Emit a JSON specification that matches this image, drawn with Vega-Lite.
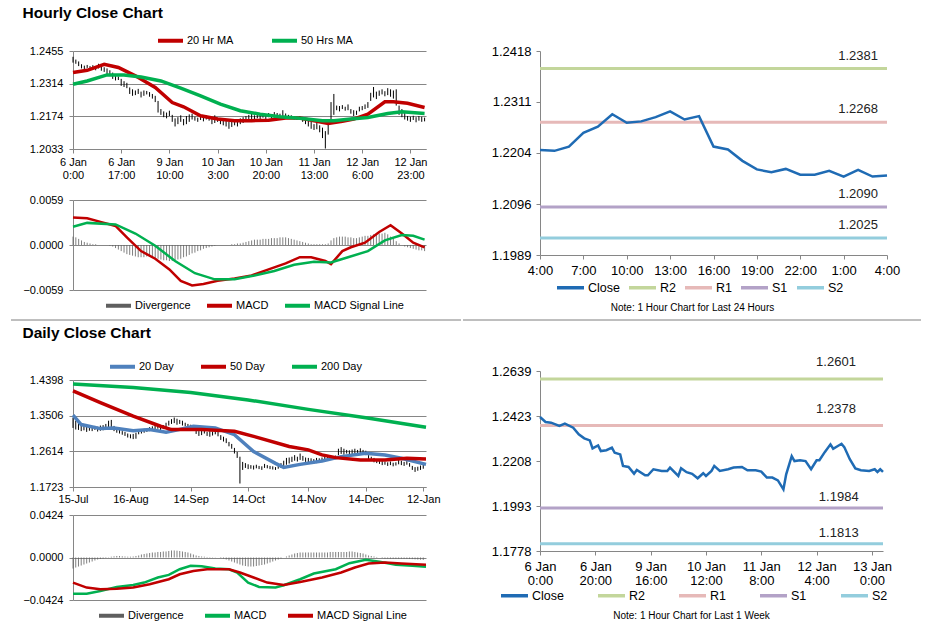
{
"$schema": "https://vega.github.io/schema/vega-lite/v6.json",
"background": "white",
"padding": {"left": 10, "top": 5, "right": 5, "bottom": 5},
"spacing": 0,
"resolve": {"scale": {"x": "independent", "y": "independent", "color": "independent"}},
"title": {"text": "Hourly Close Chart", "anchor": "start", "fontSize": 15.5, "fontWeight": "bold", "font": "Liberation Sans", "color": "#000", "offset": 0, "dx": 12},
"datasets": {
"hb": [
{"i":0,"l":1.2405,"h":1.2430,"d":0.0011},{"i":1,"l":1.2400,"h":1.2418,"d":0.0010},{"i":2,"l":1.2390,"h":1.2410,"d":0.0008},{"i":3,"l":1.2380,"h":1.2398,"d":0.0006},{"i":4,"l":1.2376,"h":1.2392,"d":0.0004},{"i":5,"l":1.2382,"h":1.2395,"d":0.0003},{"i":6,"l":1.2374,"h":1.2390,"d":0.0002},{"i":7,"l":1.2378,"h":1.2394,"d":0.0001},{"i":8,"l":1.2372,"h":1.2388,"d":0.0001},{"i":9,"l":1.2380,"h":1.2400,"d":0},
{"i":10,"l":1.2370,"h":1.2392,"d":0},{"i":11,"l":1.2365,"h":1.2385,"d":0},{"i":12,"l":1.2355,"h":1.2380,"d":0},{"i":13,"l":1.2350,"h":1.2372,"d":-0.0001},{"i":14,"l":1.2335,"h":1.2362,"d":-0.0002},{"i":15,"l":1.2328,"h":1.2352,"d":-0.0004},{"i":16,"l":1.2330,"h":1.2345,"d":-0.0006},{"i":17,"l":1.2305,"h":1.2335,"d":-0.0008},{"i":18,"l":1.2300,"h":1.2325,"d":-0.0010},{"i":19,"l":1.2295,"h":1.2318,"d":-0.0012},
{"i":20,"l":1.2270,"h":1.2298,"d":-0.0013},{"i":21,"l":1.2262,"h":1.2290,"d":-0.0014},{"i":22,"l":1.2265,"h":1.2285,"d":-0.0015},{"i":23,"l":1.2270,"h":1.2292,"d":-0.0016},{"i":24,"l":1.2255,"h":1.2280,"d":-0.0016},{"i":25,"l":1.2262,"h":1.2285,"d":-0.0016},{"i":26,"l":1.2268,"h":1.2283,"d":-0.0015},{"i":27,"l":1.2258,"h":1.2278,"d":-0.0015},{"i":28,"l":1.2250,"h":1.2270,"d":-0.0016},{"i":29,"l":1.2235,"h":1.2262,"d":-0.0017},
{"i":30,"l":1.2190,"h":1.2240,"d":-0.0018},{"i":31,"l":1.2180,"h":1.2205,"d":-0.0019},{"i":32,"l":1.2170,"h":1.2195,"d":-0.0020},{"i":33,"l":1.2165,"h":1.2190,"d":-0.0020},{"i":34,"l":1.2175,"h":1.2198,"d":-0.0021},{"i":35,"l":1.2150,"h":1.2180,"d":-0.0021},{"i":36,"l":1.2130,"h":1.2165,"d":-0.0020},{"i":37,"l":1.2140,"h":1.2170,"d":-0.0019},{"i":38,"l":1.2150,"h":1.2178,"d":-0.0018},{"i":39,"l":1.2135,"h":1.2162,"d":-0.0016},
{"i":40,"l":1.2140,"h":1.2175,"d":-0.0015},{"i":41,"l":1.2150,"h":1.2182,"d":-0.0013},{"i":42,"l":1.2160,"h":1.2185,"d":-0.0011},{"i":43,"l":1.2155,"h":1.2172,"d":-0.0010},{"i":44,"l":1.2150,"h":1.2168,"d":-0.0008},{"i":45,"l":1.2158,"h":1.2175,"d":-0.0007},{"i":46,"l":1.2152,"h":1.2170,"d":-0.0005},{"i":47,"l":1.2160,"h":1.2178,"d":-0.0004},{"i":48,"l":1.2155,"h":1.2172,"d":-0.0003},{"i":49,"l":1.2140,"h":1.2170,"d":-0.0002},
{"i":50,"l":1.2145,"h":1.2178,"d":-0.0001},{"i":51,"l":1.2150,"h":1.2168,"d":0},{"i":52,"l":1.2140,"h":1.2160,"d":0},{"i":53,"l":1.2135,"h":1.2162,"d":0},{"i":54,"l":1.2130,"h":1.2155,"d":0},{"i":55,"l":1.2120,"h":1.2150,"d":0},{"i":56,"l":1.2128,"h":1.2152,"d":0.0001},{"i":57,"l":1.2135,"h":1.2160,"d":0.0001},{"i":58,"l":1.2130,"h":1.2150,"d":0.0002},{"i":59,"l":1.2140,"h":1.2165,"d":0.0002},
{"i":60,"l":1.2145,"h":1.2170,"d":0.0003},{"i":61,"l":1.2155,"h":1.2175,"d":0.0004},{"i":62,"l":1.2158,"h":1.2180,"d":0.0005},{"i":63,"l":1.2160,"h":1.2185,"d":0.0006},{"i":64,"l":1.2162,"h":1.2178,"d":0.0007},{"i":65,"l":1.2165,"h":1.2190,"d":0.0007},{"i":66,"l":1.2160,"h":1.2180,"d":0.0007},{"i":67,"l":1.2168,"h":1.2185,"d":0.0008},{"i":68,"l":1.2162,"h":1.2182,"d":0.0008},{"i":69,"l":1.2170,"h":1.2188,"d":0.0008},
{"i":70,"l":1.2165,"h":1.2183,"d":0.0009},{"i":71,"l":1.2168,"h":1.2192,"d":0.0009},{"i":72,"l":1.2172,"h":1.2188,"d":0.0009},{"i":73,"l":1.2165,"h":1.2185,"d":0.0010},{"i":74,"l":1.2170,"h":1.2200,"d":0.0010},{"i":75,"l":1.2168,"h":1.2186,"d":0.0010},{"i":76,"l":1.2162,"h":1.2180,"d":0.0009},{"i":77,"l":1.2165,"h":1.2178,"d":0.0008},{"i":78,"l":1.2160,"h":1.2175,"d":0.0007},{"i":79,"l":1.2158,"h":1.2172,"d":0.0006},
{"i":80,"l":1.2162,"h":1.2175,"d":0.0005},{"i":81,"l":1.2150,"h":1.2170,"d":0.0004},{"i":82,"l":1.2140,"h":1.2165,"d":0.0003},{"i":83,"l":1.2130,"h":1.2160,"d":0.0002},{"i":84,"l":1.2120,"h":1.2150,"d":0.0001},{"i":85,"l":1.2115,"h":1.2140,"d":0.0001},{"i":86,"l":1.2118,"h":1.2145,"d":0.0001},{"i":87,"l":1.2105,"h":1.2135,"d":0.0001},{"i":88,"l":1.2080,"h":1.2125,"d":0.0001},{"i":89,"l":1.2035,"h":1.2110,"d":0.0001},
{"i":90,"l":1.2095,"h":1.2150,"d":0.0002},{"i":91,"l":1.2150,"h":1.2235,"d":0.0006},{"i":92,"l":1.2180,"h":1.2270,"d":0.0009},{"i":93,"l":1.2200,"h":1.2220,"d":0.0010},{"i":94,"l":1.2195,"h":1.2218,"d":0.0011},{"i":95,"l":1.2205,"h":1.2222,"d":0.0011},{"i":96,"l":1.2198,"h":1.2215,"d":0.0011},{"i":97,"l":1.2200,"h":1.2225,"d":0.0010},{"i":98,"l":1.2185,"h":1.2205,"d":0.0010},{"i":99,"l":1.2175,"h":1.2200,"d":0.0009},
{"i":100,"l":1.2180,"h":1.2198,"d":0.0009},{"i":101,"l":1.2195,"h":1.2215,"d":0.0010},{"i":102,"l":1.2200,"h":1.2218,"d":0.0011},{"i":103,"l":1.2205,"h":1.2225,"d":0.0012},{"i":104,"l":1.2210,"h":1.2235,"d":0.0012},{"i":105,"l":1.2240,"h":1.2275,"d":0.0013},{"i":106,"l":1.2255,"h":1.2300,"d":0.0014},{"i":107,"l":1.2248,"h":1.2280,"d":0.0014},{"i":108,"l":1.2262,"h":1.2285,"d":0.0015},{"i":109,"l":1.2268,"h":1.2290,"d":0.0015},
{"i":110,"l":1.2260,"h":1.2282,"d":0.0016},{"i":111,"l":1.2265,"h":1.2295,"d":0.0014},{"i":112,"l":1.2258,"h":1.2290,"d":0.0011},{"i":113,"l":1.2250,"h":1.2285,"d":0.0008},{"i":114,"l":1.2220,"h":1.2290,"d":0.0005},{"i":115,"l":1.2180,"h":1.2220,"d":0.0002},{"i":116,"l":1.2170,"h":1.2205,"d":0},{"i":117,"l":1.2160,"h":1.2190,"d":-0.0002},{"i":118,"l":1.2155,"h":1.2175,"d":-0.0003},{"i":119,"l":1.2150,"h":1.2172,"d":-0.0004},
{"i":120,"l":1.2158,"h":1.2176,"d":-0.0005},{"i":121,"l":1.2148,"h":1.2170,"d":-0.0006},{"i":122,"l":1.2155,"h":1.2175,"d":-0.0007},{"i":123,"l":1.2150,"h":1.2172,"d":-0.0007},{"i":124,"l":1.2152,"h":1.2168,"d":-0.0008}
],
"hma": [
{"i":0,"s":"20 Hr MA","v":1.2362},{"i":5,"s":"20 Hr MA","v":1.2372},{"i":11,"s":"20 Hr MA","v":1.2398},{"i":16,"s":"20 Hr MA","v":1.2384},{"i":22,"s":"20 Hr MA","v":1.2348},{"i":29,"s":"20 Hr MA","v":1.2298},{"i":35,"s":"20 Hr MA","v":1.2233},{"i":39,"s":"20 Hr MA","v":1.2215},{"i":45,"s":"20 Hr MA","v":1.2176},{"i":51,"s":"20 Hr MA","v":1.2162},{"i":57,"s":"20 Hr MA","v":1.2155},{"i":63,"s":"20 Hr MA","v":1.2155},{"i":69,"s":"20 Hr MA","v":1.2157},{"i":75,"s":"20 Hr MA","v":1.2166},{"i":80,"s":"20 Hr MA","v":1.2166},{"i":86,"s":"20 Hr MA","v":1.2152},{"i":90,"s":"20 Hr MA","v":1.2143},{"i":95,"s":"20 Hr MA","v":1.2152},{"i":99,"s":"20 Hr MA","v":1.2162},{"i":104,"s":"20 Hr MA","v":1.2183},{"i":110,"s":"20 Hr MA","v":1.2236},{"i":113,"s":"20 Hr MA","v":1.2236},{"i":118,"s":"20 Hr MA","v":1.2230},{"i":124,"s":"20 Hr MA","v":1.2212},
{"i":0,"s":"50 Hrs MA","v":1.2312},{"i":5,"s":"50 Hrs MA","v":1.2326},{"i":12,"s":"50 Hrs MA","v":1.2352},{"i":18,"s":"50 Hrs MA","v":1.2352},{"i":24,"s":"50 Hrs MA","v":1.2343},{"i":31,"s":"50 Hrs MA","v":1.2326},{"i":38,"s":"50 Hrs MA","v":1.2295},{"i":45,"s":"50 Hrs MA","v":1.2262},{"i":52,"s":"50 Hrs MA","v":1.2226},{"i":59,"s":"50 Hrs MA","v":1.2198},{"i":66,"s":"50 Hrs MA","v":1.2183},{"i":73,"s":"50 Hrs MA","v":1.2172},{"i":80,"s":"50 Hrs MA","v":1.2165},{"i":88,"s":"50 Hrs MA","v":1.2155},{"i":92,"s":"50 Hrs MA","v":1.2155},{"i":98,"s":"50 Hrs MA","v":1.2162},{"i":104,"s":"50 Hrs MA","v":1.2169},{"i":111,"s":"50 Hrs MA","v":1.2186},{"i":116,"s":"50 Hrs MA","v":1.2193},{"i":124,"s":"50 Hrs MA","v":1.2186}
],
"hmacd": [
{"i":0,"s":"MACD","v":0.0036},{"i":5,"s":"MACD","v":0.0035},{"i":10,"s":"MACD","v":0.0030},{"i":15,"s":"MACD","v":0.0025},{"i":19,"s":"MACD","v":0.0010},{"i":24,"s":"MACD","v":-0.0008},{"i":29,"s":"MACD","v":-0.0018},{"i":34,"s":"MACD","v":-0.0032},{"i":38,"s":"MACD","v":-0.0047},{"i":42,"s":"MACD","v":-0.0053},{"i":46,"s":"MACD","v":-0.0051},{"i":51,"s":"MACD","v":-0.0047},{"i":57,"s":"MACD","v":-0.0044},{"i":63,"s":"MACD","v":-0.0040},{"i":69,"s":"MACD","v":-0.0032},{"i":75,"s":"MACD","v":-0.0024},{"i":80,"s":"MACD","v":-0.0016},{"i":84,"s":"MACD","v":-0.0016},{"i":89,"s":"MACD","v":-0.0021},{"i":91,"s":"MACD","v":-0.0025},{"i":95,"s":"MACD","v":-0.0008},{"i":98,"s":"MACD","v":-0.0003},{"i":103,"s":"MACD","v":0.0003},{"i":108,"s":"MACD","v":0.0017},{"i":112,"s":"MACD","v":0.0026},{"i":116,"s":"MACD","v":0.0015},{"i":120,"s":"MACD","v":0.0003},{"i":124,"s":"MACD","v":-0.0003},
{"i":0,"s":"MACD Signal Line","v":0.0024},{"i":5,"s":"MACD Signal Line","v":0.0029},{"i":15,"s":"MACD Signal Line","v":0.0027},{"i":22,"s":"MACD Signal Line","v":0.0015},{"i":29,"s":"MACD Signal Line","v":-0.0001},{"i":36,"s":"MACD Signal Line","v":-0.0021},{"i":43,"s":"MACD Signal Line","v":-0.0037},{"i":50,"s":"MACD Signal Line","v":-0.0045},{"i":57,"s":"MACD Signal Line","v":-0.0045},{"i":64,"s":"MACD Signal Line","v":-0.0040},{"i":71,"s":"MACD Signal Line","v":-0.0034},{"i":78,"s":"MACD Signal Line","v":-0.0026},{"i":85,"s":"MACD Signal Line","v":-0.0022},{"i":91,"s":"MACD Signal Line","v":-0.0023},{"i":97,"s":"MACD Signal Line","v":-0.0016},{"i":104,"s":"MACD Signal Line","v":-0.0008},{"i":110,"s":"MACD Signal Line","v":0.0006},{"i":116,"s":"MACD Signal Line","v":0.0013},{"i":120,"s":"MACD Signal Line","v":0.0012},{"i":124,"s":"MACD Signal Line","v":0.0007}
],
"hr": [
{"i":0,"v":1.2210},{"i":1,"v":1.2208},{"i":2,"v":1.2217},{"i":3,"v":1.2246},{"i":4,"v":1.2259},{"i":5,"v":1.2285},{"i":6,"v":1.2267},{"i":7,"v":1.2270},{"i":8,"v":1.2279},{"i":9,"v":1.2291},{"i":10,"v":1.2274},{"i":11,"v":1.2281},{"i":12,"v":1.2217},{"i":13,"v":1.2211},{"i":14,"v":1.2187},{"i":15,"v":1.2169},{"i":16,"v":1.2163},{"i":17,"v":1.2170},{"i":18,"v":1.2158},{"i":19,"v":1.2158},{"i":20,"v":1.2166},{"i":21,"v":1.2154},{"i":22,"v":1.2168},{"i":23,"v":1.2154},{"i":24,"v":1.2156}
],
"hlev": [{"s":"R2","v":1.2381},{"s":"R1","v":1.2268},{"s":"S1","v":1.2090},{"s":"S2","v":1.2025}],
"db": [
{"i":0,"l":1.3200,"h":1.3460,"d":-0.0110},{"i":1,"l":1.3160,"h":1.3380,"d":-0.0100},{"i":2,"l":1.3150,"h":1.3330,"d":-0.0090},{"i":3,"l":1.3120,"h":1.3290,"d":-0.0080},{"i":4,"l":1.3140,"h":1.3270,"d":-0.0070},{"i":5,"l":1.3100,"h":1.3250,"d":-0.0060},{"i":6,"l":1.3130,"h":1.3260,"d":-0.0050},{"i":7,"l":1.3120,"h":1.3240,"d":-0.0040},{"i":8,"l":1.3150,"h":1.3250,"d":-0.0030},{"i":9,"l":1.3110,"h":1.3230,"d":-0.0020},
{"i":10,"l":1.3130,"h":1.3260,"d":-0.0015},{"i":11,"l":1.3140,"h":1.3270,"d":-0.0010},{"i":12,"l":1.3160,"h":1.3300,"d":-0.0005},{"i":13,"l":1.3180,"h":1.3380,"d":0.0003},{"i":14,"l":1.3200,"h":1.3400,"d":0.0008},{"i":15,"l":1.3120,"h":1.3250,"d":0.0012},{"i":16,"l":1.3080,"h":1.3200,"d":0.0015},{"i":17,"l":1.3060,"h":1.3180,"d":0.0015},{"i":18,"l":1.3030,"h":1.3120,"d":0.0012},{"i":19,"l":1.3000,"h":1.3100,"d":0.0010},
{"i":20,"l":1.2960,"h":1.3060,"d":0.0008},{"i":21,"l":1.2940,"h":1.3040,"d":0.0008},{"i":22,"l":1.2920,"h":1.3050,"d":0.0010},{"i":23,"l":1.2930,"h":1.3080,"d":0.0015},{"i":24,"l":1.3040,"h":1.3140,"d":0.0020},{"i":25,"l":1.3060,"h":1.3160,"d":0.0030},{"i":26,"l":1.3080,"h":1.3180,"d":0.0035},{"i":27,"l":1.3100,"h":1.3190,"d":0.0040},{"i":28,"l":1.3120,"h":1.3220,"d":0.0045},{"i":29,"l":1.3150,"h":1.3240,"d":0.0050},
{"i":30,"l":1.3160,"h":1.3280,"d":0.0050},{"i":31,"l":1.3180,"h":1.3260,"d":0.0055},{"i":32,"l":1.3150,"h":1.3230,"d":0.0055},{"i":33,"l":1.3170,"h":1.3270,"d":0.0060},{"i":34,"l":1.3200,"h":1.3330,"d":0.0060},{"i":35,"l":1.3260,"h":1.3380,"d":0.0065},{"i":36,"l":1.3300,"h":1.3420,"d":0.0070},{"i":37,"l":1.3320,"h":1.3460,"d":0.0070},{"i":38,"l":1.3280,"h":1.3430,"d":0.0068},{"i":39,"l":1.3300,"h":1.3400,"d":0.0065},
{"i":40,"l":1.3260,"h":1.3380,"d":0.0060},{"i":41,"l":1.3240,"h":1.3330,"d":0.0055},{"i":42,"l":1.3220,"h":1.3300,"d":0.0050},{"i":43,"l":1.3200,"h":1.3280,"d":0.0040},{"i":44,"l":1.3150,"h":1.3260,"d":0.0030},{"i":45,"l":1.3050,"h":1.3180,"d":0.0020},{"i":46,"l":1.3000,"h":1.3120,"d":0.0015},{"i":47,"l":1.3020,"h":1.3150,"d":0.0010},{"i":48,"l":1.3060,"h":1.3160,"d":0.0008},{"i":49,"l":1.3000,"h":1.3100,"d":0.0005},
{"i":50,"l":1.2980,"h":1.3120,"d":0.0004},{"i":51,"l":1.3010,"h":1.3110,"d":0.0003},{"i":52,"l":1.3040,"h":1.3140,"d":0.0002},{"i":53,"l":1.2990,"h":1.3100,"d":0},{"i":54,"l":1.2900,"h":1.3020,"d":-0.0005},{"i":55,"l":1.2860,"h":1.2980,"d":-0.0010},{"i":56,"l":1.2820,"h":1.2940,"d":-0.0020},{"i":57,"l":1.2740,"h":1.2850,"d":-0.0030},{"i":58,"l":1.2680,"h":1.2800,"d":-0.0040},{"i":59,"l":1.2560,"h":1.2700,"d":-0.0050},
{"i":60,"l":1.2450,"h":1.2600,"d":-0.0060},{"i":61,"l":1.1810,"h":1.2480,"d":-0.0070},{"i":62,"l":1.2150,"h":1.2350,"d":-0.0080},{"i":63,"l":1.2200,"h":1.2320,"d":-0.0085},{"i":64,"l":1.2170,"h":1.2290,"d":-0.0090},{"i":65,"l":1.2180,"h":1.2270,"d":-0.0090},{"i":66,"l":1.2160,"h":1.2260,"d":-0.0090},{"i":67,"l":1.2190,"h":1.2280,"d":-0.0085},{"i":68,"l":1.2170,"h":1.2250,"d":-0.0080},{"i":69,"l":1.2150,"h":1.2240,"d":-0.0075},
{"i":70,"l":1.2200,"h":1.2300,"d":-0.0070},{"i":71,"l":1.2190,"h":1.2270,"d":-0.0060},{"i":72,"l":1.2170,"h":1.2250,"d":-0.0050},{"i":73,"l":1.2160,"h":1.2240,"d":-0.0040},{"i":74,"l":1.2150,"h":1.2220,"d":-0.0030},{"i":75,"l":1.2180,"h":1.2260,"d":-0.0020},{"i":76,"l":1.2200,"h":1.2320,"d":-0.0010},{"i":77,"l":1.2240,"h":1.2380,"d":0},{"i":78,"l":1.2280,"h":1.2450,"d":0.0010},{"i":79,"l":1.2310,"h":1.2460,"d":0.0020},
{"i":80,"l":1.2350,"h":1.2480,"d":0.0030},{"i":81,"l":1.2380,"h":1.2520,"d":0.0040},{"i":82,"l":1.2360,"h":1.2480,"d":0.0045},{"i":83,"l":1.2400,"h":1.2560,"d":0.0050},{"i":84,"l":1.2380,"h":1.2500,"d":0.0050},{"i":85,"l":1.2350,"h":1.2460,"d":0.0050},{"i":86,"l":1.2330,"h":1.2450,"d":0.0050},{"i":87,"l":1.2340,"h":1.2440,"d":0.0050},{"i":88,"l":1.2300,"h":1.2420,"d":0.0050},{"i":89,"l":1.2320,"h":1.2450,"d":0.0050},
{"i":90,"l":1.2350,"h":1.2440,"d":0.0050},{"i":91,"l":1.2370,"h":1.2460,"d":0.0050},{"i":92,"l":1.2380,"h":1.2480,"d":0.0050},{"i":93,"l":1.2390,"h":1.2470,"d":0.0050},{"i":94,"l":1.2410,"h":1.2500,"d":0.0055},{"i":95,"l":1.2400,"h":1.2480,"d":0.0055},{"i":96,"l":1.2420,"h":1.2510,"d":0.0055},{"i":97,"l":1.2520,"h":1.2680,"d":0.0055},{"i":98,"l":1.2550,"h":1.2720,"d":0.0055},{"i":99,"l":1.2530,"h":1.2680,"d":0.0055},
{"i":100,"l":1.2560,"h":1.2650,"d":0.0055},{"i":101,"l":1.2540,"h":1.2640,"d":0.0060},{"i":102,"l":1.2520,"h":1.2660,"d":0.0060},{"i":103,"l":1.2550,"h":1.2680,"d":0.0055},{"i":104,"l":1.2530,"h":1.2650,"d":0.0050},{"i":105,"l":1.2560,"h":1.2690,"d":0.0045},{"i":106,"l":1.2540,"h":1.2650,"d":0.0040},{"i":107,"l":1.2520,"h":1.2630,"d":0.0030},{"i":108,"l":1.2400,"h":1.2520,"d":0.0020},{"i":109,"l":1.2380,"h":1.2480,"d":0.0015},
{"i":110,"l":1.2340,"h":1.2450,"d":0.0010},{"i":111,"l":1.2320,"h":1.2420,"d":0.0005},{"i":112,"l":1.2300,"h":1.2400,"d":0},{"i":113,"l":1.2270,"h":1.2370,"d":-0.0005},{"i":114,"l":1.2280,"h":1.2360,"d":-0.0010},{"i":115,"l":1.2250,"h":1.2340,"d":-0.0010},{"i":116,"l":1.2270,"h":1.2360,"d":-0.0012},{"i":117,"l":1.2240,"h":1.2330,"d":-0.0012},{"i":118,"l":1.2260,"h":1.2340,"d":-0.0013},{"i":119,"l":1.2290,"h":1.2400,"d":-0.0012},
{"i":120,"l":1.2270,"h":1.2380,"d":-0.0012},{"i":121,"l":1.2250,"h":1.2350,"d":-0.0013},{"i":122,"l":1.2280,"h":1.2370,"d":-0.0014},{"i":123,"l":1.2230,"h":1.2320,"d":-0.0015},{"i":124,"l":1.2150,"h":1.2250,"d":-0.0016},{"i":125,"l":1.2100,"h":1.2220,"d":-0.0018},{"i":126,"l":1.2130,"h":1.2230,"d":-0.0020},{"i":127,"l":1.2150,"h":1.2260,"d":-0.0022},{"i":128,"l":1.2180,"h":1.2290,"d":-0.0024}
],
"dma": [
{"i":0,"s":"20 Day","v":1.3520},{"i":3,"s":"20 Day","v":1.3284},{"i":10,"s":"20 Day","v":1.3183},{"i":15,"s":"20 Day","v":1.3200},{"i":22,"s":"20 Day","v":1.3132},{"i":28,"s":"20 Day","v":1.3158},{"i":34,"s":"20 Day","v":1.3090},{"i":37,"s":"20 Day","v":1.3132},{"i":44,"s":"20 Day","v":1.3242},{"i":52,"s":"20 Day","v":1.3200},{"i":59,"s":"20 Day","v":1.3031},{"i":66,"s":"20 Day","v":1.2609},{"i":74,"s":"20 Day","v":1.2314},{"i":77,"s":"20 Day","v":1.2213},{"i":83,"s":"20 Day","v":1.2289},{"i":91,"s":"20 Day","v":1.2373},{"i":98,"s":"20 Day","v":1.2483},{"i":107,"s":"20 Day","v":1.2567},{"i":114,"s":"20 Day","v":1.2525},{"i":120,"s":"20 Day","v":1.2440},{"i":129,"s":"20 Day","v":1.2288},
{"i":0,"s":"50 Day","v":1.4128},{"i":10,"s":"50 Day","v":1.3833},{"i":22,"s":"50 Day","v":1.3495},{"i":32,"s":"50 Day","v":1.3242},{"i":36,"s":"50 Day","v":1.3158},{"i":47,"s":"50 Day","v":1.3158},{"i":59,"s":"50 Day","v":1.3115},{"i":66,"s":"50 Day","v":1.2989},{"i":79,"s":"50 Day","v":1.2736},{"i":86,"s":"50 Day","v":1.2651},{"i":91,"s":"50 Day","v":1.2525},{"i":96,"s":"50 Day","v":1.2457},{"i":105,"s":"50 Day","v":1.2398},{"i":114,"s":"50 Day","v":1.2398},{"i":122,"s":"50 Day","v":1.2440},{"i":129,"s":"50 Day","v":1.2423},
{"i":0,"s":"200 Day","v":1.4297},{"i":22,"s":"200 Day","v":1.4212},{"i":43,"s":"200 Day","v":1.4086},{"i":64,"s":"200 Day","v":1.3900},{"i":86,"s":"200 Day","v":1.3664},{"i":107,"s":"200 Day","v":1.3453},{"i":129,"s":"200 Day","v":1.3217}
],
"dmacd": [
{"i":0,"s":"MACD","v":-0.0361},{"i":5,"s":"MACD","v":-0.0361},{"i":10,"s":"MACD","v":-0.0334},{"i":16,"s":"MACD","v":-0.0294},{"i":22,"s":"MACD","v":-0.0274},{"i":26,"s":"MACD","v":-0.0250},{"i":31,"s":"MACD","v":-0.0200},{"i":35,"s":"MACD","v":-0.0174},{"i":39,"s":"MACD","v":-0.0117},{"i":43,"s":"MACD","v":-0.0083},{"i":47,"s":"MACD","v":-0.0087},{"i":52,"s":"MACD","v":-0.0110},{"i":57,"s":"MACD","v":-0.0117},{"i":60,"s":"MACD","v":-0.0150},{"i":64,"s":"MACD","v":-0.0250},{"i":68,"s":"MACD","v":-0.0294},{"i":74,"s":"MACD","v":-0.0300},{"i":77,"s":"MACD","v":-0.0277},{"i":83,"s":"MACD","v":-0.0217},{"i":88,"s":"MACD","v":-0.0160},{"i":96,"s":"MACD","v":-0.0117},{"i":101,"s":"MACD","v":-0.0057},{"i":107,"s":"MACD","v":-0.0023},{"i":112,"s":"MACD","v":-0.0043},{"i":118,"s":"MACD","v":-0.0073},{"i":124,"s":"MACD","v":-0.0083},{"i":129,"s":"MACD","v":-0.0093},
{"i":0,"s":"MACD Signal Line","v":-0.0250},{"i":5,"s":"MACD Signal Line","v":-0.0300},{"i":10,"s":"MACD Signal Line","v":-0.0317},{"i":16,"s":"MACD Signal Line","v":-0.0311},{"i":22,"s":"MACD Signal Line","v":-0.0300},{"i":28,"s":"MACD Signal Line","v":-0.0267},{"i":35,"s":"MACD Signal Line","v":-0.0217},{"i":39,"s":"MACD Signal Line","v":-0.0167},{"i":44,"s":"MACD Signal Line","v":-0.0134},{"i":49,"s":"MACD Signal Line","v":-0.0117},{"i":57,"s":"MACD Signal Line","v":-0.0117},{"i":61,"s":"MACD Signal Line","v":-0.0150},{"i":66,"s":"MACD Signal Line","v":-0.0200},{"i":71,"s":"MACD Signal Line","v":-0.0250},{"i":77,"s":"MACD Signal Line","v":-0.0274},{"i":83,"s":"MACD Signal Line","v":-0.0244},{"i":91,"s":"MACD Signal Line","v":-0.0200},{"i":98,"s":"MACD Signal Line","v":-0.0150},{"i":103,"s":"MACD Signal Line","v":-0.0100},{"i":108,"s":"MACD Signal Line","v":-0.0060},{"i":114,"s":"MACD Signal Line","v":-0.0050},{"i":120,"s":"MACD Signal Line","v":-0.0060},{"i":129,"s":"MACD Signal Line","v":-0.0073}
],
"dr": [
{"i":0,"v":1.2419},{"i":2,"v":1.2395},{"i":4,"v":1.2392},{"i":7,"v":1.2376},{"i":9,"v":1.2387},{"i":12,"v":1.2368},{"i":14,"v":1.2336},{"i":16,"v":1.2317},{"i":18,"v":1.2307},{"i":19,"v":1.2269},{"i":21,"v":1.2283},{"i":22,"v":1.2256},{"i":24,"v":1.2260},{"i":26,"v":1.2272},{"i":27,"v":1.2248},{"i":29,"v":1.2240},{"i":30,"v":1.2185},{"i":32,"v":1.2180},{"i":34,"v":1.2148},{"i":35,"v":1.2166},{"i":38,"v":1.2140},{"i":39,"v":1.2140},{"i":41,"v":1.2169},{"i":44,"v":1.2161},{"i":46,"v":1.2161},{"i":47,"v":1.2177},{"i":50,"v":1.2137},{"i":51,"v":1.2174},{"i":53,"v":1.2155},{"i":55,"v":1.2147},{"i":57,"v":1.2126},{"i":59,"v":1.2150},{"i":60,"v":1.2137},{"i":62,"v":1.2161},{"i":63,"v":1.2185},{"i":65,"v":1.2161},{"i":68,"v":1.2169},{"i":70,"v":1.2177},{"i":73,"v":1.2180},{"i":75,"v":1.2164},{"i":78,"v":1.2164},{"i":80,"v":1.2158},{"i":82,"v":1.2129},{"i":84,"v":1.2129},{"i":86,"v":1.2116},{"i":88,"v":1.2073},{"i":89,"v":1.2145},{"i":91,"v":1.2232},{"i":92,"v":1.2208},{"i":94,"v":1.2212},{"i":96,"v":1.2208},{"i":98,"v":1.2169},{"i":100,"v":1.2212},{"i":101,"v":1.2212},{"i":103,"v":1.2252},{"i":105,"v":1.2288},{"i":106,"v":1.2267},{"i":109,"v":1.2291},{"i":110,"v":1.2275},{"i":112,"v":1.2217},{"i":114,"v":1.2173},{"i":116,"v":1.2164},{"i":119,"v":1.2161},{"i":121,"v":1.2169},{"i":122,"v":1.2156},{"i":123,"v":1.2169},{"i":124,"v":1.2156}
],
"dlev": [{"s":"R2","v":1.2601},{"s":"R1","v":1.2378},{"s":"S1","v":1.1984},{"s":"S2","v":1.1813}]
},
"hconcat": [
{"bounds": "flush", "spacing": 0,
 "resolve": {"scale": {"x": "independent", "y": "independent", "color": "independent"}},
 "vconcat": [
  {"width": 353, "height": 30, "data": {"values": []}, "mark": "point"},
  {"width": 353, "height": 98,
   "layer": [
    {"data": {"name": "hb"}, "mark": {"type": "rule", "color": "#000", "strokeWidth": 1},
     "encoding": {
      "x": {"field": "i", "type": "quantitative", "scale": {"domain": [0, 124.5], "nice": false, "zero": false},
            "axis": {"title": null, "values": [0,17,34,51,68,85,102,119], "tickCount": 20, "grid": false, "labelFlush": false, "labelOverlap": false, "labelPadding": 3, "labelLineHeight": 13,
                     "labelExpr": "[['6 Jan','0:00'],['6 Jan','17:00'],['9 Jan','10:00'],['10 Jan','3:00'],['10 Jan','20:00'],['11 Jan','13:00'],['12 Jan','6:00'],['12 Jan','23:00']][round(datum.value/17)]"}},
      "y": {"field": "l", "type": "quantitative", "scale": {"domain": [1.2033, 1.2455], "nice": false, "zero": false},
            "axis": {"title": null, "values": [1.2033,1.2174,1.2314,1.2455], "tickCount": 10, "format": ".4f", "grid": true, "labelPadding": 6, "labelOverlap": false}},
      "y2": {"field": "h"}
     }},
    {"data": {"name": "hma"}, "mark": {"type": "line", "strokeWidth": 3.5},
     "encoding": {
      "x": {"field": "i", "type": "quantitative"},
      "y": {"field": "v", "type": "quantitative"},
      "color": {"field": "s", "type": "nominal", "scale": {"domain": ["20 Hr MA", "50 Hrs MA"], "range": ["#c00000", "#00b050"]},
                "legend": {"title": null, "orient": "none", "legendX": 83, "legendY": -25, "direction": "horizontal", "columnPadding": 30}}
     }}
   ]},
  {"width": 353, "height": 51, "data": {"values": []}, "mark": "point"},
  {"width": 353, "height": 90,
   "layer": [
    {"data": {"name": "hb"}, "mark": {"type": "rule", "strokeWidth": 1, "strokeOpacity": 0.8},
     "encoding": {
      "x": {"field": "i", "type": "quantitative", "scale": {"domain": [0, 124.5], "nice": false, "zero": false}, "axis": null},
      "y": {"field": "d", "type": "quantitative", "scale": {"domain": [-0.0059, 0.0059], "nice": false},
            "axis": {"title": null, "values": [-0.0059, 0, 0.0059], "tickCount": 10, "format": ".4f", "grid": true, "labelPadding": 6, "labelOverlap": false}},
      "y2": {"datum": 0},
      "color": {"datum": "Divergence", "type": "nominal", "scale": {"domain": ["Divergence", "MACD", "MACD Signal Line"], "range": ["#5f5f5f", "#c00000", "#00b050"]},
                "legend": {"title": null, "orient": "none", "legendX": 31, "legendY": 91, "direction": "horizontal", "columnPadding": 8}}
     }},
    {"data": {"name": "hmacd"}, "mark": {"type": "line", "strokeWidth": 2.5},
     "encoding": {
      "x": {"field": "i", "type": "quantitative"},
      "y": {"field": "v", "type": "quantitative"},
      "color": {"field": "s", "type": "nominal",
                "legend": {"title": null, "orient": "none", "legendX": 31, "legendY": 91, "direction": "horizontal", "columnPadding": 8}}
     }}
   ]},
  {"width": 353, "height": 30, "data": {"values": []}, "mark": "point"},
  {"width": 353, "height": 1,
   "title": {"text": "Daily Close Chart", "orient": "bottom", "anchor": "start", "fontSize": 15.5, "fontWeight": "bold", "font": "Liberation Sans", "color": "#000", "offset": 5, "dx": 12},
   "data": {"values": [{"a": 0}]},
   "mark": {"type": "rule", "color": "#7f7f7f", "strokeWidth": 1},
   "encoding": {
    "x": {"datum": -62, "type": "quantitative", "scale": {"domain": [0, 353], "nice": false, "zero": false}, "axis": null},
    "x2": {"datum": 388},
    "y": {"datum": 1, "type": "quantitative", "scale": {"domain": [0, 1]}, "axis": null}
   }},
  {"width": 353, "height": 59, "data": {"values": []}, "mark": "point"},
  {"width": 353, "height": 107,
   "layer": [
    {"data": {"name": "db"}, "mark": {"type": "rule", "color": "#000", "strokeWidth": 1},
     "encoding": {
      "x": {"field": "i", "type": "quantitative", "scale": {"domain": [0, 129], "nice": false, "zero": false},
            "axis": {"title": null, "values": [0,21,43,64,86,107,128], "tickCount": 20, "grid": false, "labelFlush": false, "labelOverlap": false, "labelPadding": 2,
                     "labelExpr": "['15-Jul','16-Aug','14-Sep','14-Oct','14-Nov','14-Dec','12-Jan'][indexof([0,21,43,64,86,107,128], datum.value)]"}},
      "y": {"field": "l", "type": "quantitative", "scale": {"domain": [1.1723, 1.4398], "nice": false, "zero": false},
            "axis": {"title": null, "values": [1.1723,1.2614,1.3506,1.4398], "tickCount": 10, "format": ".4f", "grid": true, "labelPadding": 6, "labelOverlap": false}},
      "y2": {"field": "h"}
     }},
    {"data": {"name": "dma"}, "mark": {"type": "line", "strokeWidth": 3.5},
     "encoding": {
      "x": {"field": "i", "type": "quantitative"},
      "y": {"field": "v", "type": "quantitative"},
      "color": {"field": "s", "type": "nominal", "scale": {"domain": ["20 Day", "50 Day", "200 Day"], "range": ["#4f81bd", "#c00000", "#00b050"]},
                "legend": {"title": null, "orient": "none", "legendX": 35, "legendY": -28, "direction": "horizontal", "columnPadding": 19}}
     }}
   ]},
  {"width": 353, "height": 28, "data": {"values": []}, "mark": "point"},
  {"width": 353, "height": 85,
   "layer": [
    {"data": {"name": "db"}, "mark": {"type": "rule", "strokeWidth": 1, "strokeOpacity": 0.8},
     "encoding": {
      "x": {"field": "i", "type": "quantitative", "scale": {"domain": [0, 129], "nice": false, "zero": false}, "axis": null},
      "y": {"field": "d", "type": "quantitative", "scale": {"domain": [-0.0424, 0.0424], "nice": false},
            "axis": {"title": null, "values": [-0.0424, 0, 0.0424], "tickCount": 10, "format": ".4f", "grid": true, "labelPadding": 6, "labelOverlap": false}},
      "y2": {"datum": 0},
      "color": {"datum": "Divergence", "type": "nominal", "scale": {"domain": ["Divergence", "MACD", "MACD Signal Line"], "range": ["#5f5f5f", "#00b050", "#c00000"]},
                "legend": {"title": null, "orient": "none", "legendX": 24, "legendY": 86, "direction": "horizontal", "columnPadding": 13}}
     }},
    {"data": {"name": "dmacd"}, "mark": {"type": "line", "strokeWidth": 2.5},
     "encoding": {
      "x": {"field": "i", "type": "quantitative"},
      "y": {"field": "v", "type": "quantitative"},
      "color": {"field": "s", "type": "nominal",
                "legend": {"title": null, "orient": "none", "legendX": 24, "legendY": 86, "direction": "horizontal", "columnPadding": 13}}
     }}
   ]}
 ]},
{"bounds": "flush", "spacing": 0,
 "resolve": {"scale": {"x": "independent", "y": "independent", "color": "independent"}},
 "vconcat": [
  {"width": 347, "height": 30, "data": {"values": []}, "mark": "point"},
  {"width": 347, "height": 204,
   "title": {"text": "Note: 1 Hour Chart for Last 24 Hours", "orient": "bottom", "fontSize": 10, "fontWeight": "normal", "font": "Liberation Sans", "color": "#000", "dx": -21, "offset": 8},
   "layer": [
    {"data": {"name": "hlev"}, "mark": {"type": "rule", "strokeWidth": 3},
     "encoding": {
      "y": {"field": "v", "type": "quantitative", "scale": {"domain": [1.1989, 1.2418], "nice": false, "zero": false},
            "axis": {"title": null, "values": [1.1989,1.2096,1.2204,1.2311,1.2418], "tickCount": 10, "format": ".4f", "grid": false, "labelFontSize": 13, "labelPadding": 5, "labelOverlap": false}},
      "color": {"field": "s", "type": "nominal", "scale": {"domain": ["Close", "R2", "R1", "S1", "S2"], "range": ["#1f6bb4", "#c3d69b", "#e6b9b8", "#b3a2c7", "#93cddd"]},
                "legend": {"title": null, "orient": "none", "legendX": 15, "legendY": 221, "direction": "horizontal", "columnPadding": 2, "labelFontSize": 12.5, "symbolStrokeWidth": 3.5, "symbolSize": 729}}
     }},
    {"data": {"name": "hlev"}, "mark": {"type": "text", "fontSize": 13, "dy": -13, "color": "#222", "font": "Liberation Sans"},
     "encoding": {
      "x": {"datum": 22, "type": "quantitative"},
      "y": {"field": "v", "type": "quantitative"},
      "text": {"field": "v", "type": "quantitative", "format": ".4f"}
     }},
    {"data": {"name": "hr"}, "mark": {"type": "line", "strokeWidth": 2.5},
     "encoding": {
      "x": {"field": "i", "type": "quantitative", "scale": {"domain": [0, 24], "nice": false, "zero": false},
            "axis": {"title": null, "values": [0,3,6,9,12,15,18,21,24], "tickCount": 20, "grid": false, "labelFontSize": 13, "labelFlush": false, "labelPadding": 5, "labelOverlap": false,
                     "labelExpr": "((datum.value + 4) % 24) + ':00'"}},
      "y": {"field": "v", "type": "quantitative"},
      "color": {"datum": "Close", "type": "nominal",
                "legend": {"title": null, "orient": "none", "legendX": 15, "legendY": 221, "direction": "horizontal", "columnPadding": 2, "labelFontSize": 12.5, "symbolStrokeWidth": 3.5, "symbolSize": 729}}
     }}
   ]},
  {"width": 347, "height": 65, "data": {"values": []}, "mark": "point"},
  {"width": 347, "height": 1,
   "data": {"values": [{"a": 0}]},
   "mark": {"type": "rule", "color": "#7f7f7f", "strokeWidth": 1},
   "encoding": {
    "x": {"datum": -77, "type": "quantitative", "scale": {"domain": [0, 347], "nice": false, "zero": false}, "axis": null},
    "x2": {"datum": 381},
    "y": {"datum": 1, "type": "quantitative", "scale": {"domain": [0, 1]}, "axis": null}
   }},
  {"width": 347, "height": 50, "data": {"values": []}, "mark": "point"},
  {"width": 343, "height": 180,
   "title": {"text": "Note: 1 Hour Chart for Last 1 Week", "orient": "bottom", "fontSize": 10, "fontWeight": "normal", "font": "Liberation Sans", "color": "#000", "dx": -20, "offset": 8},
   "layer": [
    {"data": {"name": "dlev"}, "mark": {"type": "rule", "strokeWidth": 3},
     "encoding": {
      "y": {"field": "v", "type": "quantitative", "scale": {"domain": [1.1778, 1.2639], "nice": false, "zero": false},
            "axis": {"title": null, "values": [1.1778,1.1993,1.2208,1.2423,1.2639], "tickCount": 10, "format": ".4f", "grid": false, "labelFontSize": 13, "labelPadding": 5, "labelOverlap": false}},
      "color": {"field": "s", "type": "nominal", "scale": {"domain": ["Close", "R2", "R1", "S1", "S2"], "range": ["#1f6bb4", "#c3d69b", "#e6b9b8", "#b3a2c7", "#93cddd"]},
                "legend": {"title": null, "orient": "none", "legendX": -41, "legendY": 209, "direction": "horizontal", "columnPadding": 27, "labelFontSize": 12.5, "symbolStrokeWidth": 3.5, "symbolSize": 729}}
     }},
    {"data": {"name": "dlev"}, "transform": [{"filter": "datum.s == 'R2' || datum.s == 'R1'"}],
     "mark": {"type": "text", "fontSize": 13, "dy": -17, "color": "#222", "font": "Liberation Sans"},
     "encoding": {
      "x": {"datum": 107, "type": "quantitative"},
      "y": {"field": "v", "type": "quantitative"},
      "text": {"field": "v", "type": "quantitative", "format": ".4f"}
     }},
    {"data": {"name": "dlev"}, "transform": [{"filter": "datum.s == 'S1' || datum.s == 'S2'"}],
     "mark": {"type": "text", "fontSize": 13, "dy": -11, "color": "#222", "font": "Liberation Sans"},
     "encoding": {
      "x": {"datum": 108, "type": "quantitative"},
      "y": {"field": "v", "type": "quantitative"},
      "text": {"field": "v", "type": "quantitative", "format": ".4f"}
     }},
    {"data": {"name": "dr"}, "mark": {"type": "line", "strokeWidth": 2.5},
     "encoding": {
      "x": {"field": "i", "type": "quantitative", "scale": {"domain": [0, 124], "nice": false, "zero": false},
            "axis": {"title": null, "values": [0,20,40,60,80,100,120], "tickCount": 20, "grid": false, "labelFontSize": 13, "labelFlush": false, "labelPadding": 5, "labelOverlap": false, "labelLineHeight": 14,
                     "labelExpr": "[['6 Jan','0:00'],['6 Jan','20:00'],['9 Jan','16:00'],['10 Jan','12:00'],['11 Jan','8:00'],['12 Jan','4:00'],['13 Jan','0:00']][round(datum.value/20)]"}},
      "y": {"field": "v", "type": "quantitative"},
      "color": {"datum": "Close", "type": "nominal",
                "legend": {"title": null, "orient": "none", "legendX": -41, "legendY": 209, "direction": "horizontal", "columnPadding": 27, "labelFontSize": 12.5, "symbolStrokeWidth": 3.5, "symbolSize": 729}}
     }}
   ]}
 ]}
],
"config": {
 "view": {"stroke": null},
 "font": "Liberation Sans",
 "axis": {"labelFont": "Liberation Sans", "labelFontSize": 11, "labelColor": "#000", "domainColor": "#868686", "tickColor": "#868686", "gridColor": "#868686", "tickSize": 4, "domainWidth": 1, "gridWidth": 1},
 "legend": {"labelFont": "Liberation Sans", "labelFontSize": 11, "labelColor": "#000", "symbolType": "stroke", "symbolStrokeWidth": 4, "symbolSize": 625, "labelOffset": 2, "padding": 0, "symbolOpacity": 1}
}
}
